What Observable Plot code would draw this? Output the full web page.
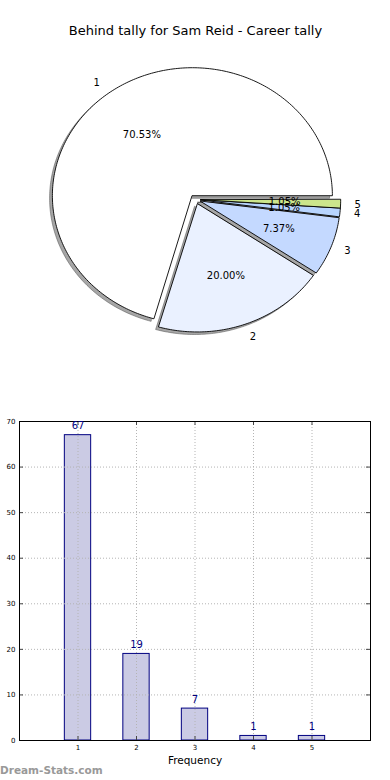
<!DOCTYPE html>
<html>
<head>
<meta charset="utf-8">
<script src="https://cdn.jsdelivr.net/npm/d3@7"></script>
<script src="https://cdn.jsdelivr.net/npm/@observablehq/plot@0.6"></script>
<style>
  html, body { margin: 0; padding: 0; background: #fff; }
  #wrap { position: relative; width: 390px; height: 780px; overflow: hidden; font-family: "DejaVu Sans", sans-serif; }
  #pie { position: absolute; left: 0; top: 0; }
  #bar { position: absolute; left: 0; top: 400px; }
  #wm { position: absolute; left: 0; top: 763px; font-size: 10.5px; font-weight: bold; color: #999; line-height: 14px; white-space: nowrap; }
</style>
</head>
<body>
<div id="wrap">
  <div id="pie"></div>
  <div id="bar"></div>
  <div id="wm"></div>
</div>
<script>
// ---- data ----
const labels = ["1", "2", "3", "4", "5"];
const counts = [67, 19, 7, 1, 1];
const pieColors = ["#ffffff", "#eaf1ff", "#c4d9ff", "#b8d5ff", "#cce68c"];
const xTicks = [1, 2, 3, 4, 5];
const yTicks = [0, 10, 20, 30, 40, 50, 60, 70];
const title = "Behind tally for Sam Reid - Career tally";
const xLabel = "Frequency";
const watermark = "Dream-Stats.com";

// ---- pie geometry (derived from counts) ----
const total = d3.sum(counts);
const explode = 0.037;
let acc = 0;
const slices = counts.map((v, i) => {
  const a0 = acc / total * 2 * Math.PI; acc += v;
  const a1 = acc / total * 2 * Math.PI;
  const mid = (a0 + a1) / 2;
  return {i, label: labels[i], v, a0, a1, mid,
    ox: explode * Math.cos(mid), oy: explode * Math.sin(mid),
    pct: (100 * v / total).toFixed(2) + "%", color: pieColors[i]};
});
function wedgePoints(s, dx = 0, dy = 0) {
  const pts = [{x: s.ox + dx, y: s.oy + dy}];
  const n = Math.max(3, Math.ceil((s.a1 - s.a0) / (Math.PI / 180)));
  for (let k = 0; k <= n; k++) {
    const t = s.a0 + (s.a1 - s.a0) * k / n;
    pts.push({x: s.ox + dx + Math.cos(t), y: s.oy + dy + Math.sin(t)});
  }
  return pts;
}

const pie = Plot.plot({
  width: 390, height: 400, margin: 0,
  style: {fontFamily: "DejaVu Sans", background: "white", color: "black"},
  x: {domain: [-195 / 140, 195 / 140], axis: null},
  y: {domain: [-201 / 128, 199 / 128], axis: null},
  marks: [
    ...slices.map(s => Plot.line(wedgePoints(s, -0.02, -0.02), {
      x: "x", y: "y", curve: "linear-closed",
      fill: "#4d4d4d", fillOpacity: 0.5, stroke: "#4d4d4d", strokeOpacity: 0.5, strokeWidth: 1})),
    ...slices.map(s => Plot.line(wedgePoints(s), {
      x: "x", y: "y", curve: "linear-closed",
      fill: s.color, stroke: "#000", strokeWidth: 0.9})),
    Plot.text(slices, {
      x: s => s.ox + 0.6 * Math.cos(s.mid), y: s => s.oy + 0.6 * Math.sin(s.mid),
      text: "pct", fontSize: 10, lineAnchor: "middle", fill: "#000"}),
    Plot.text(slices, {
      filter: s => Math.cos(s.mid) < 0,
      x: s => s.ox + 1.1 * Math.cos(s.mid), y: s => s.oy + 1.1 * Math.sin(s.mid),
      text: "label", fontSize: 10, lineAnchor: "middle", textAnchor: "end", fill: "#000"}),
    Plot.text(slices, {
      filter: s => Math.cos(s.mid) >= 0,
      x: s => s.ox + 1.1 * Math.cos(s.mid), y: s => s.oy + 1.1 * Math.sin(s.mid),
      text: "label", fontSize: 10, lineAnchor: "middle", textAnchor: "start", fill: "#000"}),
    Plot.text([title], {frameAnchor: "top", dy: 34, lineAnchor: "bottom", fontSize: 13, fill: "#000"})
  ]
});
document.getElementById("pie").appendChild(pie);

// ---- bar chart ----
const barData = counts.map((v, i) => ({k: +labels[i], v}));
const bar = Plot.plot({
  width: 390, height: 380,
  marginTop: 21, marginBottom: 40, marginLeft: 19, marginRight: 20,
  style: {fontFamily: "DejaVu Sans", background: "white", color: "black"},
  x: {domain: [0, 6]},
  y: {domain: [0, 70]},
  marks: [
    Plot.rectY(barData, {x1: d => d.k - 0.225, x2: d => d.k + 0.225, y1: 0, y2: "v",
      fill: "#cbcbe4", stroke: "#000080", strokeWidth: 1}),
    Plot.gridX(xTicks, {stroke: "#b4b4b4", strokeOpacity: 1, strokeDasharray: "1,2", strokeWidth: 1}),
    Plot.gridY(yTicks, {stroke: "#b4b4b4", strokeOpacity: 1, strokeDasharray: "1,2", strokeWidth: 1}),
    Plot.tickX(xTicks, {x: d => d, insetTop: 315, stroke: "#444"}),
    Plot.tickX(xTicks, {x: d => d, insetBottom: 315, stroke: "#444"}),
    Plot.tickY(yTicks, {y: d => d, insetRight: 347, stroke: "#444"}),
    Plot.tickY(yTicks, {y: d => d, insetLeft: 347, stroke: "#444"}),
    Plot.frame({stroke: "#000", strokeWidth: 1}),
    Plot.axisX(xTicks, {tickSize: 0, tickPadding: 5, fontSize: 7, label: null}),
    Plot.axisY(yTicks, {tickSize: 0, tickPadding: 4, fontSize: 7, label: null}),
    Plot.text(barData, {x: "k", y: "v", text: d => String(d.v), dy: -9,
      fill: "#000080", fontSize: 10, lineAnchor: "middle"}),
    Plot.text([xLabel], {frameAnchor: "bottom", dy: 20, fontSize: 10.5, lineAnchor: "middle", fill: "#000"})
  ]
});
document.getElementById("bar").appendChild(bar);
document.getElementById("wm").textContent = watermark;
</script>
</body>
</html>
